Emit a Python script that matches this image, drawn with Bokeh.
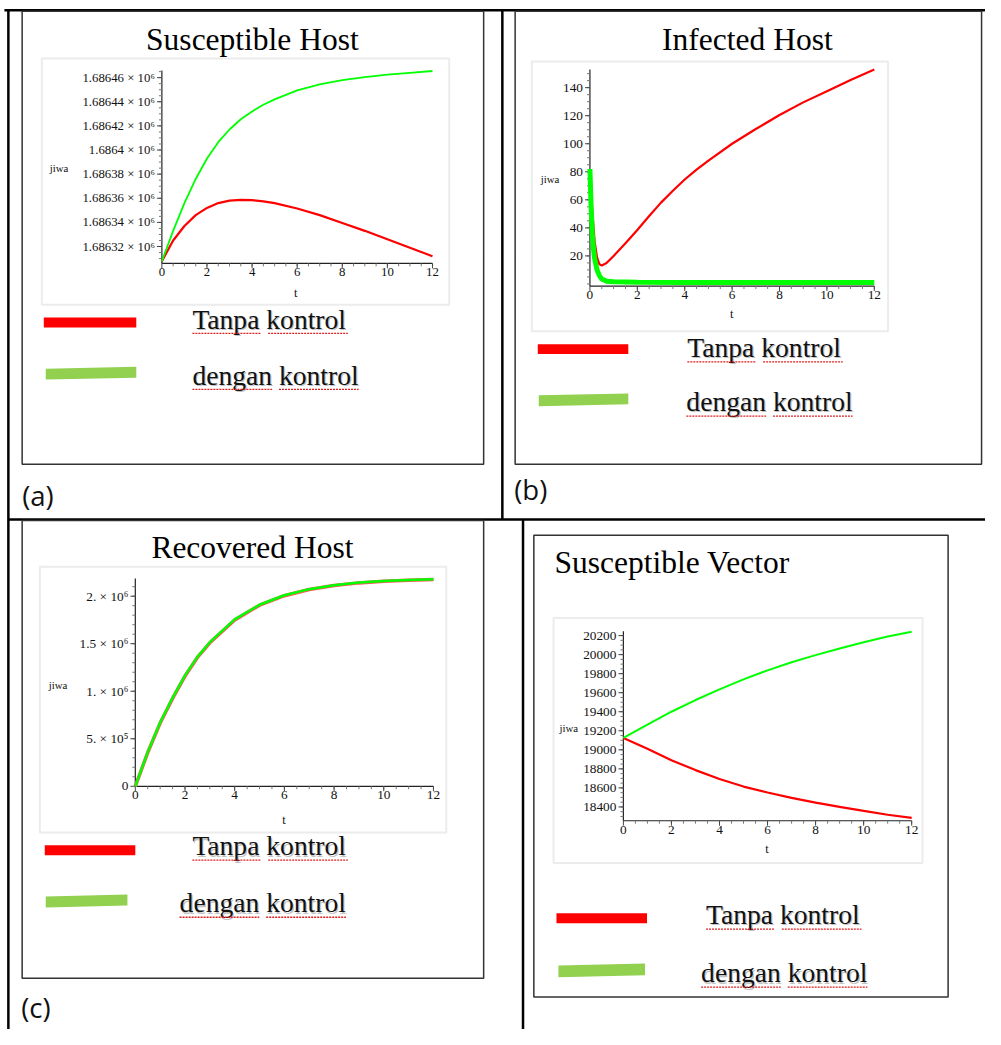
from bokeh.plotting import figure
from bokeh.models import Range1d
from bokeh.embed import file_html
from bokeh.resources import INLINE
from bokeh.core.properties import value

# ---------------- data ----------------
# (a) Susceptible Host
t_sh = [0, 0.5, 1, 1.5, 2, 2.5, 3, 3.5, 4, 4.5, 5, 6, 7, 8, 9, 10, 11, 12]
sh_tanpa = [1686307.8, 1686325, 1686337, 1686346, 1686352, 1686356, 1686358, 1686358.6,
            1686358.4, 1686357.5, 1686356, 1686351.5, 1686346, 1686339.5, 1686333,
            1686326, 1686319, 1686312]
sh_dengan = [1686307.8, 1686333, 1686356, 1686376, 1686393, 1686406.5, 1686417, 1686425.5,
             1686432, 1686437.5, 1686442, 1686449.5, 1686454.5, 1686458, 1686460.5,
             1686462.5, 1686464, 1686465.5]
sh_yticks = [1686320, 1686340, 1686360, 1686380, 1686400, 1686420, 1686440, 1686460]
sh_ylabels = ["1.68632 × 10⁶", "1.68634 × 10⁶", "1.68636 × 10⁶", "1.68638 × 10⁶",
              "1.6864 × 10⁶", "1.68642 × 10⁶", "1.68644 × 10⁶", "1.68646 × 10⁶"]

# (b) Infected Host
t_ih_tanpa = [0, 0.1, 0.2, 0.3, 0.4, 0.5, 0.7, 1, 1.5, 2, 2.5, 3, 3.5, 4, 4.5, 5, 6, 7,
              8, 9, 10, 11, 12]
ih_tanpa = [82, 52, 30, 19, 14, 13.2, 15, 20, 29, 38.5, 48.5, 58, 66.5, 74.5, 81.5, 88,
            100, 110.5, 120.5, 129.5, 137.5, 145.5, 153]
t_ih_dengan = [0, 0.05, 0.1, 0.15, 0.2, 0.3, 0.4, 0.5, 0.7, 1, 2, 4, 6, 8, 10, 12]
ih_dengan = [82, 55, 36, 25, 18, 10, 6, 3.5, 2, 1.5, 1.2, 1, 1, 1, 1, 1]
ih_yticks = [20, 40, 60, 80, 100, 120, 140]
ih_ylabels = ["20", "40", "60", "80", "100", "120", "140"]

# (c) Recovered Host
t_rh = [0, 0.5, 1, 1.5, 2, 2.5, 3, 4, 5, 6, 7, 8, 9, 10, 11, 12]
rh_tanpa = [0, 355e3, 665e3, 924e3, 1.16e6, 1.355e6, 1.51e6, 1.75e6, 1.905e6, 2.005e6,
            2.07e6, 2.112e6, 2.14e6, 2.157e6, 2.168e6, 2.176e6]
rh_dengan = [0, 360e3, 672e3, 931e3, 1.167e6, 1.362e6, 1.516e6, 1.756e6, 1.91e6, 2.01e6,
             2.074e6, 2.115e6, 2.143e6, 2.16e6, 2.17e6, 2.178e6]
rh_yticks = [0, 5e5, 1e6, 1.5e6, 2e6]
rh_ylabels = ["0", "5. × 10⁵", "1. × 10⁶", "1.5 × 10⁶", "2. × 10⁶"]

# (d) Susceptible Vector
t_sv = [0, 1, 2, 3, 4, 5, 6, 7, 8, 9, 10, 11, 12]
sv_tanpa = [19125, 19010, 18890, 18787, 18693, 18614, 18552, 18495, 18445, 18400, 18359,
            18318, 18285]
sv_dengan = [19125, 19265, 19400, 19523, 19635, 19740, 19835, 19920, 19995, 20065, 20130,
             20190, 20240]
sv_yticks = [18400, 18600, 18800, 19000, 19200, 19400, 19600, 19800, 20000, 20200]
sv_ylabels = ["18400", "18600", "18800", "19000", "19200", "19400", "19600", "19800",
              "20000", "20200"]

x_ticks = [0, 2, 4, 6, 8, 10, 12]
x_labels = ["0", "2", "4", "6", "8", "10", "12"]

titles = ["Susceptible Host", "Infected Host", "Recovered Host", "Susceptible Vector"]
legend_labels = ["Tanpa kontrol", "dengan kontrol"]
panel_tags = ["(a)", "(b)", "(c)"]

# ---------------- layout / style ----------------
REF_W, REF_H = 1001, 1045          # layout coordinates below are in reference pixels
W, H = 985, 1029
S = W / REF_W
SERIF = value("Liberation Serif")
RED, GREEN, LEG_GREEN = "#ff0000", "#00ff00", "#92d050"


def fs(px):
    return value("%.1fpx" % (px * S))


p = figure(width=W, height=H, x_range=Range1d(0, REF_W), y_range=Range1d(REF_H, 0),
           x_axis_type=None, y_axis_type=None, toolbar_location=None,
           output_backend="svg", min_border=0, outline_line_color=None)
p.background_fill_color = "white"
p.border_fill_color = "white"

# table lines
p.segment(x0=[4, 8, 510, 8, 531], y0=[10, 10, 10, 527, 527],
          x1=[1001, 8, 510, 1001, 531], y1=[10, 1045, 527, 527, 1045],
          line_color="black", line_width=2.5)
# inner boxes
p.quad(left=[22, 523, 22, 542], right=[491, 997, 491, 963],
       top=[11, 11, 528, 543], bottom=[471, 471, 993, 1012],
       fill_color=None, line_color="#333333", line_width=1.5)

# panel tags
p.text(x=[22, 522, 21], y=[502, 496, 1022], text=panel_tags,
       text_font=value("Open Sans"), text_font_size=fs(28),
       text_baseline="middle", text_align="left", text_color="#111111")

# titles
p.text(x=[256, 759, 256], y=[40, 40, 556], text=titles[:3], text_font=SERIF,
       text_font_size=fs(32), text_align="center", text_baseline="middle",
       text_color="black")
p.text(x=[563], y=[571], text=titles[3:], text_font=SERIF,
       text_font_size=fs(32), text_align="left", text_baseline="middle",
       text_color="black")

# maple plot frames (light gray)
p.quad(left=[42, 540, 40, 562], right=[456, 902, 453, 937],
       top=[59, 62, 575, 627], bottom=[309, 336, 845, 876],
       fill_color=None, line_color="#ececec", line_width=2)

PANELS = {
    "a": dict(x0=164, x12=439, yb_px=267, yb=1686306, yt_px=71, yt=1686466,
              ymin_step=5, jiwa=(50, 170), tl=(300, 297)),
    "b": dict(x0=599, x12=888, yb_px=290, yb=-1.5, yt_px=70, yt=153,
              ymin_step=5, jiwa=(549, 181), tl=(743, 318)),
    "c": dict(x0=137, x12=440, yb_px=798, yb=0, yt_px=587, yt=2.186e6,
              ymin_step=1e5, jiwa=(49, 695), tl=(288, 832)),
    "d": dict(x0=633, x12=926, yb_px=833, yb=18255, yt_px=640.6, yt=20245,
              ymin_step=50, jiwa=(568, 739), tl=(779, 862)),
}


def setup(name, g):
    xs = 12.0 / (g["x12"] - g["x0"])
    vs = (g["yt"] - g["yb"]) / (g["yb_px"] - g["yt_px"])
    p.extra_x_ranges[name + "x"] = Range1d((0 - g["x0"]) * xs, (REF_W - g["x0"]) * xs)
    p.extra_y_ranges[name + "y"] = Range1d(g["yb"] - (REF_H - g["yb_px"]) * vs,
                                           g["yb"] + (g["yb_px"] - 0) * vs)
    return xs, vs


def axes(name, g, yticks, ylabels, lab_size):
    xs, vs = setup(name, g)
    kw = dict(x_range_name=name + "x", y_range_name=name + "y")
    yb, yt = g["yb"], g["yt"]
    p.segment(x0=[0, 0], y0=[yb, yb], x1=[0, 12], y1=[yt, yb], line_color="#222222",
              line_width=1.2, **kw)
    step = g["ymin_step"]
    k0 = int(yb // step) + 1
    minor = [k * step for k in range(k0, int(yt // step) + 1)]
    p.segment(x0=[0] * len(minor), x1=[-3 * xs] * len(minor), y0=minor, y1=minor,
              line_color="#777777", line_width=1, **kw)
    p.segment(x0=[0] * len(yticks), x1=[-5 * xs] * len(yticks), y0=yticks, y1=yticks,
              line_color="#444444", line_width=1, **kw)
    xminor = [i * 0.5 for i in range(1, 25)]
    p.segment(x0=xminor, x1=xminor, y0=[yb] * len(xminor), y1=[yb - 3 * vs] * len(xminor),
              line_color="#777777", line_width=1, **kw)
    p.segment(x0=x_ticks, x1=x_ticks, y0=[yb] * len(x_ticks), y1=[yb - 5 * vs] * len(x_ticks),
              line_color="#444444", line_width=1, **kw)
    p.text(x=[0] * len(yticks), y=yticks, text=ylabels, x_offset=-7, text_align="right",
           text_baseline="middle", text_font=SERIF, text_font_size=fs(lab_size),
           text_color="#111111", **kw)
    p.text(x=x_ticks, y=[yb] * len(x_ticks), text=x_labels, y_offset=5, text_align="center",
           text_baseline="top", text_font=SERIF, text_font_size=fs(lab_size),
           text_color="#111111", **kw)
    p.text(x=[g["jiwa"][0]], y=[g["jiwa"][1]], text=["jiwa"], text_align="left",
           text_baseline="middle", text_font=SERIF, text_font_size=fs(11),
           text_color="#111111")
    p.text(x=[g["tl"][0]], y=[g["tl"][1]], text=["t"], text_align="center",
           text_baseline="middle", text_font=SERIF, text_font_size=fs(12.5),
           text_color="#111111")
    return kw


kw = axes("a", PANELS["a"], sh_yticks, sh_ylabels, 13)
p.line(t_sh, sh_tanpa, line_color=RED, line_width=2.2, **kw)
p.line(t_sh, sh_dengan, line_color=GREEN, line_width=1.8, **kw)

kw = axes("b", PANELS["b"], ih_yticks, ih_ylabels, 13.5)
p.line(t_ih_tanpa, ih_tanpa, line_color=RED, line_width=2.2, **kw)
p.line(t_ih_dengan, ih_dengan, line_color=GREEN, line_width=5, **kw)

kw = axes("c", PANELS["c"], rh_yticks, rh_ylabels, 13.5)
p.line(t_rh, rh_tanpa, line_color="#ff5555", line_width=3.5, **kw)
p.line(t_rh, rh_dengan, line_color=GREEN, line_width=2.5, **kw)

kw = axes("d", PANELS["d"], sv_yticks, sv_ylabels, 13.5)
p.line(t_sv, sv_tanpa, line_color=RED, line_width=2.2, **kw)
p.line(t_sv, sv_dengan, line_color=GREEN, line_width=2, **kw)

# legends (drawn in the document): red bar, green bar, text with faint shadow, wavy underline
LEG = [  # red bar (l, r, t, b), green bar (l, r, top_left, top_right, h), tanpa (x, mid), dengan (x, mid)
    ((44, 138, 322, 332), (46, 138, 374, 372, 11), (195, 323.5), (195, 380.5)),
    ((546, 638, 349, 359), (547, 638, 401, 399, 11), (698, 352.5), (697, 407.5)),
    ((45, 137, 858, 868), (46, 129, 910, 908, 11), (195, 858.5), (182, 916.5)),
    ((565, 657, 927, 937), (567, 655, 980, 978, 12), (717, 928.5), (712, 987.5)),
]
for red_bar, gbar, tp, dg in LEG:
    l, r, t, b = red_bar
    p.quad(left=[l], right=[r], top=[t], bottom=[b], fill_color=RED, line_color=None)
    gl, gr, gtl, gtr, gh = gbar
    p.patch(x=[gl, gr, gr, gl], y=[gtl, gtr, gtr + gh, gtl + gh], fill_color=LEG_GREEN,
            line_color=None)
    for (tx, ty), lab, w1 in ((tp, legend_labels[0], 70), (dg, legend_labels[1], 81)):
        p.text(x=[tx + 1.2], y=[ty + 1.2], text=[lab], text_font=SERIF,
               text_font_size=fs(28), text_baseline="middle",
               text_color="#9a9a9a", text_alpha=0.6)
        p.text(x=[tx], y=[ty], text=[lab], text_font=SERIF, text_font_size=fs(28),
               text_baseline="middle", text_color="#111111")
        ub = ty + 9.5 + 5
        p.segment(x0=[tx, tx + w1 + 7], x1=[tx + w1, tx + w1 + 7 + 81],
                  y0=[ub, ub], y1=[ub, ub], line_color="#e02020",
                  line_width=1.3, line_dash="2 1")

open("out.html", "w").write(file_html(p, INLINE))
